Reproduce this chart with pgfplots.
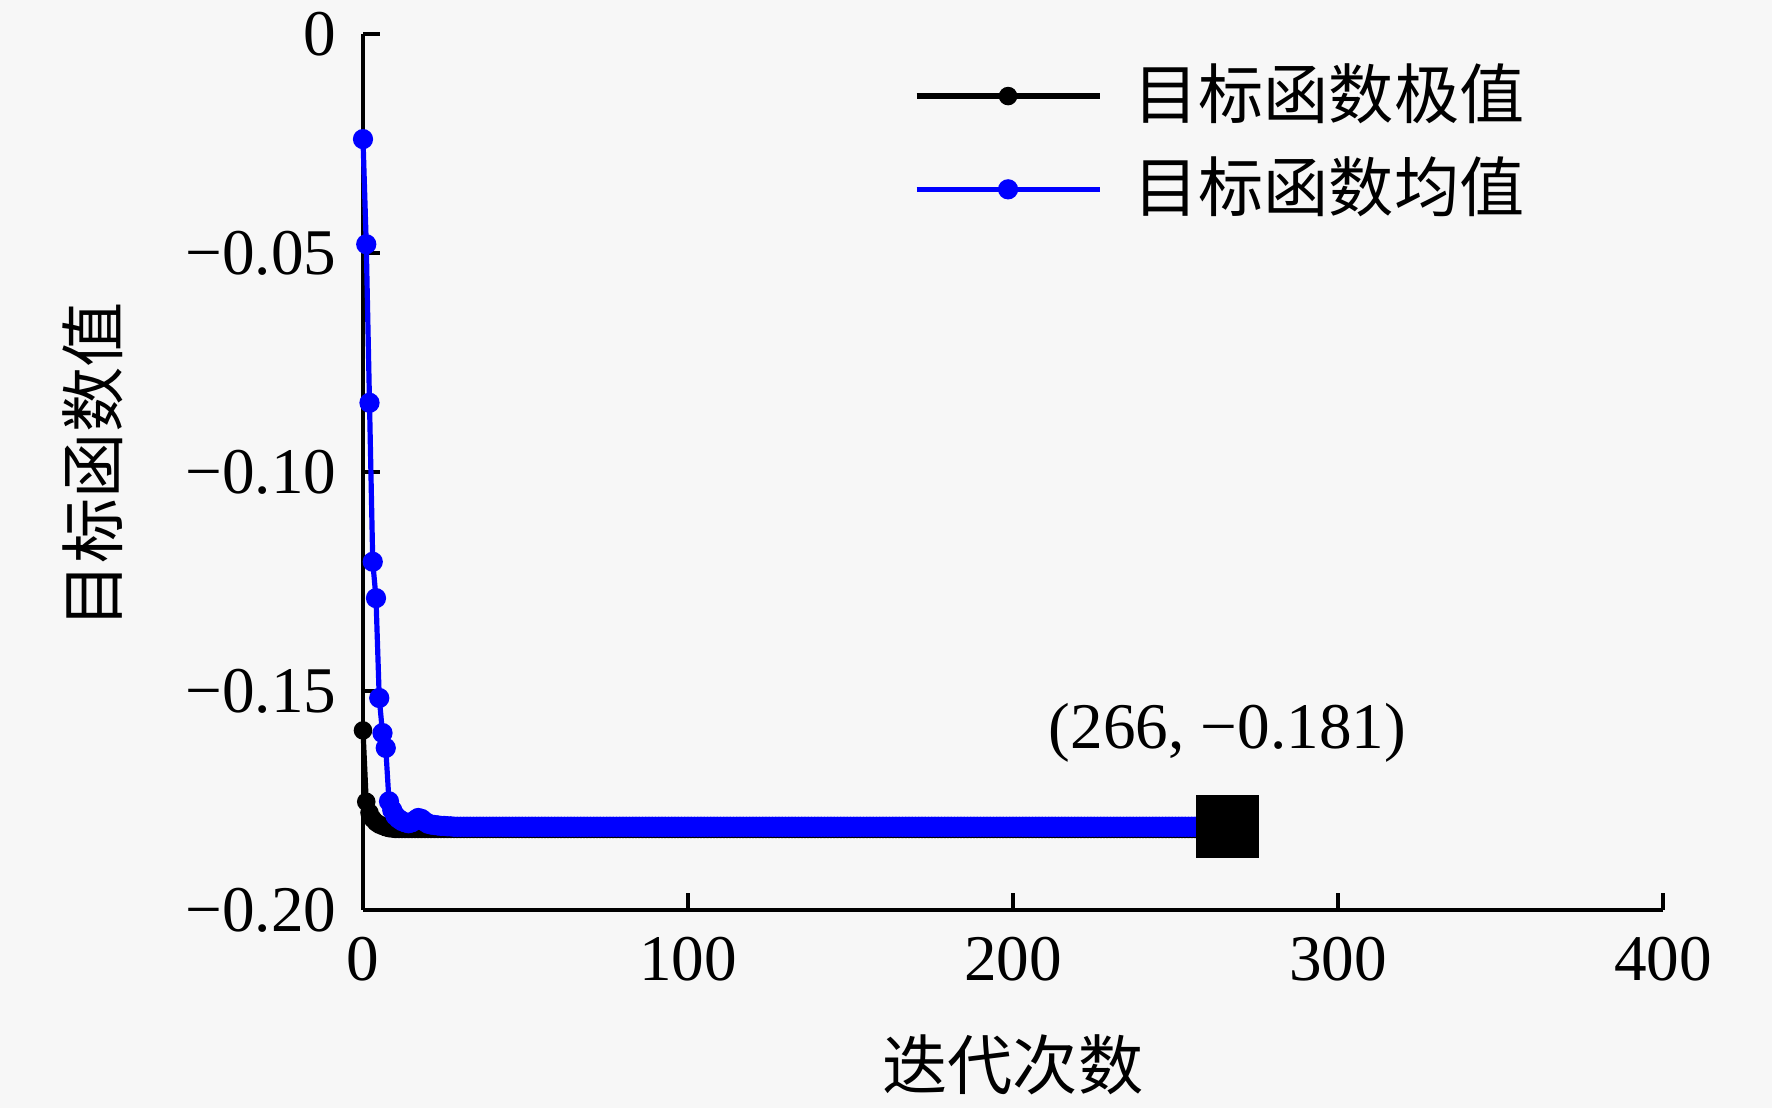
\documentclass[border=0pt]{standalone}
\usepackage{fontspec}
\setmainfont{Liberation Serif}
\newfontfamily\cjk{Noto Sans CJK SC}
\usepackage{pgfplots}
\usepackage{pgfplotstable}
\pgfplotsset{compat=1.18}
\definecolor{bg}{RGB}{247,247,247}
\definecolor{pblue}{RGB}{0,0,255}

\pgfplotstableread{
it best mean
0 -0.1590 -0.0240
1 -0.1753 -0.0480
2 -0.1778 -0.0842
3 -0.1792 -0.1205
4 -0.1800 -0.1288
5 -0.1805 -0.1516
6 -0.1808 -0.1596
7 -0.1811 -0.1630
8 -0.1813 -0.1752
9 -0.1814 -0.1772
10 -0.1815 -0.1785
11 -0.1815 -0.1792
12 -0.1815 -0.1797
13 -0.1815 -0.1800
14 -0.1815 -0.1802
15 -0.1815 -0.1800
16 -0.1815 -0.1795
17 -0.1815 -0.1790
18 -0.1815 -0.1792
19 -0.1815 -0.1798
20 -0.1815 -0.1803
21 -0.1815 -0.1805
22 -0.1815 -0.1806
23 -0.1815 -0.1807
24 -0.1815 -0.1808
25 -0.1815 -0.1808
26 -0.1815 -0.1809
27 -0.1815 -0.1809
28 -0.1815 -0.1810
29 -0.1815 -0.1810
30 -0.1815 -0.1810
31 -0.1815 -0.1810
32 -0.1815 -0.1810
33 -0.1815 -0.1810
34 -0.1815 -0.1810
35 -0.1815 -0.1810
36 -0.1815 -0.1810
37 -0.1815 -0.1810
38 -0.1815 -0.1810
39 -0.1815 -0.1810
40 -0.1815 -0.1810
41 -0.1815 -0.1810
42 -0.1815 -0.1810
43 -0.1815 -0.1810
44 -0.1815 -0.1810
45 -0.1815 -0.1810
46 -0.1815 -0.1810
47 -0.1815 -0.1810
48 -0.1815 -0.1810
49 -0.1815 -0.1810
50 -0.1815 -0.1810
51 -0.1815 -0.1810
52 -0.1815 -0.1810
53 -0.1815 -0.1810
54 -0.1815 -0.1810
55 -0.1815 -0.1810
56 -0.1815 -0.1810
57 -0.1815 -0.1810
58 -0.1815 -0.1810
59 -0.1815 -0.1810
60 -0.1815 -0.1810
61 -0.1815 -0.1810
62 -0.1815 -0.1810
63 -0.1815 -0.1810
64 -0.1815 -0.1810
65 -0.1815 -0.1810
66 -0.1815 -0.1810
67 -0.1815 -0.1810
68 -0.1815 -0.1810
69 -0.1815 -0.1810
70 -0.1815 -0.1810
71 -0.1815 -0.1810
72 -0.1815 -0.1810
73 -0.1815 -0.1810
74 -0.1815 -0.1810
75 -0.1815 -0.1810
76 -0.1815 -0.1810
77 -0.1815 -0.1810
78 -0.1815 -0.1810
79 -0.1815 -0.1810
80 -0.1815 -0.1810
81 -0.1815 -0.1810
82 -0.1815 -0.1810
83 -0.1815 -0.1810
84 -0.1815 -0.1810
85 -0.1815 -0.1810
86 -0.1815 -0.1810
87 -0.1815 -0.1810
88 -0.1815 -0.1810
89 -0.1815 -0.1810
90 -0.1815 -0.1810
91 -0.1815 -0.1810
92 -0.1815 -0.1810
93 -0.1815 -0.1810
94 -0.1815 -0.1810
95 -0.1815 -0.1810
96 -0.1815 -0.1810
97 -0.1815 -0.1810
98 -0.1815 -0.1810
99 -0.1815 -0.1810
100 -0.1815 -0.1810
101 -0.1815 -0.1810
102 -0.1815 -0.1810
103 -0.1815 -0.1810
104 -0.1815 -0.1810
105 -0.1815 -0.1810
106 -0.1815 -0.1810
107 -0.1815 -0.1810
108 -0.1815 -0.1810
109 -0.1815 -0.1810
110 -0.1815 -0.1810
111 -0.1815 -0.1810
112 -0.1815 -0.1810
113 -0.1815 -0.1810
114 -0.1815 -0.1810
115 -0.1815 -0.1810
116 -0.1815 -0.1810
117 -0.1815 -0.1810
118 -0.1815 -0.1810
119 -0.1815 -0.1810
120 -0.1815 -0.1810
121 -0.1815 -0.1810
122 -0.1815 -0.1810
123 -0.1815 -0.1810
124 -0.1815 -0.1810
125 -0.1815 -0.1810
126 -0.1815 -0.1810
127 -0.1815 -0.1810
128 -0.1815 -0.1810
129 -0.1815 -0.1810
130 -0.1815 -0.1810
131 -0.1815 -0.1810
132 -0.1815 -0.1810
133 -0.1815 -0.1810
134 -0.1815 -0.1810
135 -0.1815 -0.1810
136 -0.1815 -0.1810
137 -0.1815 -0.1810
138 -0.1815 -0.1810
139 -0.1815 -0.1810
140 -0.1815 -0.1810
141 -0.1815 -0.1810
142 -0.1815 -0.1810
143 -0.1815 -0.1810
144 -0.1815 -0.1810
145 -0.1815 -0.1810
146 -0.1815 -0.1810
147 -0.1815 -0.1810
148 -0.1815 -0.1810
149 -0.1815 -0.1810
150 -0.1815 -0.1810
151 -0.1815 -0.1810
152 -0.1815 -0.1810
153 -0.1815 -0.1810
154 -0.1815 -0.1810
155 -0.1815 -0.1810
156 -0.1815 -0.1810
157 -0.1815 -0.1810
158 -0.1815 -0.1810
159 -0.1815 -0.1810
160 -0.1815 -0.1810
161 -0.1815 -0.1810
162 -0.1815 -0.1810
163 -0.1815 -0.1810
164 -0.1815 -0.1810
165 -0.1815 -0.1810
166 -0.1815 -0.1810
167 -0.1815 -0.1810
168 -0.1815 -0.1810
169 -0.1815 -0.1810
170 -0.1815 -0.1810
171 -0.1815 -0.1810
172 -0.1815 -0.1810
173 -0.1815 -0.1810
174 -0.1815 -0.1810
175 -0.1815 -0.1810
176 -0.1815 -0.1810
177 -0.1815 -0.1810
178 -0.1815 -0.1810
179 -0.1815 -0.1810
180 -0.1815 -0.1810
181 -0.1815 -0.1810
182 -0.1815 -0.1810
183 -0.1815 -0.1810
184 -0.1815 -0.1810
185 -0.1815 -0.1810
186 -0.1815 -0.1810
187 -0.1815 -0.1810
188 -0.1815 -0.1810
189 -0.1815 -0.1810
190 -0.1815 -0.1810
191 -0.1815 -0.1810
192 -0.1815 -0.1810
193 -0.1815 -0.1810
194 -0.1815 -0.1810
195 -0.1815 -0.1810
196 -0.1815 -0.1810
197 -0.1815 -0.1810
198 -0.1815 -0.1810
199 -0.1815 -0.1810
200 -0.1815 -0.1810
201 -0.1815 -0.1810
202 -0.1815 -0.1810
203 -0.1815 -0.1810
204 -0.1815 -0.1810
205 -0.1815 -0.1810
206 -0.1815 -0.1810
207 -0.1815 -0.1810
208 -0.1815 -0.1810
209 -0.1815 -0.1810
210 -0.1815 -0.1810
211 -0.1815 -0.1810
212 -0.1815 -0.1810
213 -0.1815 -0.1810
214 -0.1815 -0.1810
215 -0.1815 -0.1810
216 -0.1815 -0.1810
217 -0.1815 -0.1810
218 -0.1815 -0.1810
219 -0.1815 -0.1810
220 -0.1815 -0.1810
221 -0.1815 -0.1810
222 -0.1815 -0.1810
223 -0.1815 -0.1810
224 -0.1815 -0.1810
225 -0.1815 -0.1810
226 -0.1815 -0.1810
227 -0.1815 -0.1810
228 -0.1815 -0.1810
229 -0.1815 -0.1810
230 -0.1815 -0.1810
231 -0.1815 -0.1810
232 -0.1815 -0.1810
233 -0.1815 -0.1810
234 -0.1815 -0.1810
235 -0.1815 -0.1810
236 -0.1815 -0.1810
237 -0.1815 -0.1810
238 -0.1815 -0.1810
239 -0.1815 -0.1810
240 -0.1815 -0.1810
241 -0.1815 -0.1810
242 -0.1815 -0.1810
243 -0.1815 -0.1810
244 -0.1815 -0.1810
245 -0.1815 -0.1810
246 -0.1815 -0.1810
247 -0.1815 -0.1810
248 -0.1815 -0.1810
249 -0.1815 -0.1810
250 -0.1815 -0.1810
251 -0.1815 -0.1810
252 -0.1815 -0.1810
253 -0.1815 -0.1810
254 -0.1815 -0.1810
255 -0.1815 -0.1810
256 -0.1815 -0.1810
257 -0.1815 -0.1810
258 -0.1815 -0.1810
259 -0.1815 -0.1810
260 -0.1815 -0.1810
261 -0.1815 -0.1810
262 -0.1815 -0.1810
263 -0.1815 -0.1810
264 -0.1815 -0.1810
265 -0.1815 -0.1810
266 -0.1815 -0.1810
}\datatable

\begin{document}
\fontsize{15.7pt}{18pt}\selectfont
\begin{tikzpicture}
\path[use as bounding box, fill=bg] (-87.43pt,-47.69pt) rectangle (339.35pt,219.17pt);
\begin{axis}[
  at={(0,0)}, anchor=south west,
  scale only axis, width=313.1pt, height=210.98pt,
  xmin=0, xmax=400, ymin=-0.2, ymax=0,
  axis lines*=left,
  axis line style={line width=0.9pt, black},
  every tick/.style={black, line width=0.9pt},
  major tick length=4pt,
  tick align=inside,
  xtick={0,100,200,300,400}, xticklabels={0,100,200,300,400},
  ytick={-0.2,-0.15,-0.1,-0.05,0}, yticklabels={−0.20,−0.15,−0.10,−0.05,0},
  xticklabel style={yshift=-1.2pt},
  yticklabel style={xshift=-1pt},
  xlabel={\cjk 迭代次数}, ylabel={\cjk 目标函数值},
  xlabel style={at={(axis description cs:0.5,-0.1769)}, anchor=center},
  ylabel style={at={(axis description cs:-0.2077,0.5074)}, anchor=center},
  clip=false,
  legend style={draw=none, fill=none, at={(axis description cs:0.4238,0.966)}, anchor=north west,
    inner sep=0pt, outer sep=0pt, row sep=6.9pt, column sep=0pt,
    nodes={inner sep=0pt, font=\cjk},
    /tikz/every odd column/.style={column sep=7.5pt}},
  legend cell align=left,
  legend image code/.code={\draw[mark repeat=2,mark phase=2,#1] plot coordinates {(0pt,0pt) (22.05pt,0pt) (44.1pt,0pt)};},
]
\addplot[black, line width=1.25pt, mark=*, mark size=1.6pt, mark options={solid, fill=black}] table[x=it, y=best] {\datatable};
\addlegendentry{目标函数极值}
\addplot[pblue, line width=1.25pt, mark=*, mark size=1.8pt, mark options={solid, fill=pblue}] table[x=it, y=mean] {\datatable};
\addlegendentry{目标函数均值}
\addplot[forget plot, only marks, mark=square*, mark size=7.35pt, mark options={fill=black, draw=black}] coordinates {(266,-0.181)};
\node[anchor=base, yshift=18.8pt] at (axis cs:266,-0.181) {(266, −0.181)};
\end{axis}
\end{tikzpicture}
\end{document}
